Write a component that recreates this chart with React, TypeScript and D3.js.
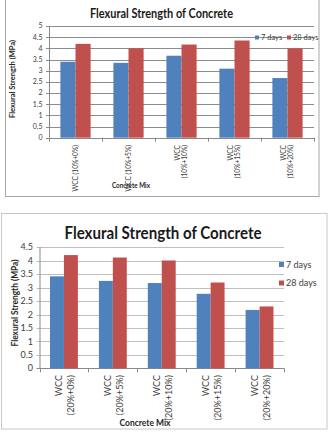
import React from "react";
import * as d3 from "d3";

// mix labels, split into the lines they are drawn on
const mixLabels10 = [
  ["WCC (10%+0%)"],
  ["WCC (10%+5%)"],
  ["WCC", "(10%+10%)"],
  ["WCC", "(10%+15%)"],
  ["WCC", "(10%+20%)"],
];
const mixLabels20 = [
  ["WCC", "(20%+0%)"],
  ["WCC", "(20%+5%)"],
  ["WCC", "(20%+10%)"],
  ["WCC", "(20%+15%)"],
  ["WCC", "(20%+20%)"],
];

// flexural strength, MPa
const days7Mix10 = [3.4, 3.35, 3.67, 3.09, 2.67];
const days28Mix10 = [4.2, 4.0, 4.17, 4.35, 4.0];
const days7Mix20 = [3.42, 3.25, 3.17, 2.77, 2.17];
const days28Mix20 = [4.21, 4.12, 4.01, 3.19, 2.3];

const seriesNames = ["7 days", "28 days"];
const seriesColors = ["#4F81BD", "#C0504D"];

const ticks10 = [0, 0.5, 1, 1.5, 2, 2.5, 3, 3.5, 4, 4.5, 5];
const ticks20 = [0, 0.5, 1, 1.5, 2, 2.5, 3, 3.5, 4, 4.5];

const FONT = "Lato, 'Open Sans', sans-serif";

type PanelProps = {
  labels: string[][];
  a: number[];
  b: number[];
  ticks: number[];
  frame: [number, number, number, number];
  plot: { x0: number; x1: number; y0: number; y1: number };
  title: { x: number; y: number; size: number; width: number };
  tickFont: number;
  tickX: number;
  labelFont: number;
  labelTop: number;
  lineOffsets: number[][];
  yTitle: { x: number; y: number; size: number; width: number };
  xTitle: { x: number; y: number; size: number; width: number };
  legend: "row" | "column";
  legendPos: { x: number; y: number };
  legendFont: number;
  gridColor: string;
  frameColor: string;
};

function Panel(p: PanelProps) {
  const cats = p.labels.map((_, i) => String(i));
  const x = d3
    .scaleBand()
    .domain(cats)
    .range([p.plot.x0, p.plot.x1])
    .paddingInner(0.43)
    .paddingOuter(0.215);
  const sub = d3.scaleBand().domain(["a", "b"]).range([0, x.bandwidth()]);
  const y = d3
    .scaleLinear()
    .domain([0, d3.max(p.ticks) as number])
    .range([p.plot.y1, p.plot.y0]);
  const step = x.step();

  return (
    <g>
      <rect
        x={p.frame[0]}
        y={p.frame[1]}
        width={p.frame[2]}
        height={p.frame[3]}
        fill="#fff"
        stroke={p.frameColor}
        strokeWidth={1}
      />
      <text
        x={p.title.x}
        y={p.title.y}
        textAnchor="middle"
        fontFamily={FONT}
        fontWeight="bold"
        fontSize={p.title.size}
        textLength={p.title.width}
        lengthAdjust="spacingAndGlyphs"
        fill="#1a1a1a"
      >
        Flexural Strength of Concrete
      </text>

      {/* gridlines and y ticks */}
      {p.ticks.map((t) => (
        <g key={t}>
          <line
            x1={p.plot.x0 - 3}
            x2={p.plot.x1}
            y1={Math.round(y(t)) + 0.5}
            y2={Math.round(y(t)) + 0.5}
            stroke={t === 0 ? "#888" : p.gridColor}
          />
          <text
            x={p.tickX}
            y={y(t)}
            dy="0.35em"
            textAnchor="end"
            fontFamily={FONT}
            fontSize={p.tickFont}
            fill="#404040"
          >
            {t}
          </text>
        </g>
      ))}
      <line
        x1={p.plot.x0 + 0.5}
        x2={p.plot.x0 + 0.5}
        y1={y(d3.max(p.ticks) as number)}
        y2={y(0)}
        stroke="#888"
      />
      {d3.range(cats.length + 1).map((i) => (
        <line
          key={i}
          x1={Math.round(p.plot.x0 + i * step) + 0.5}
          x2={Math.round(p.plot.x0 + i * step) + 0.5}
          y1={y(0)}
          y2={y(0) + 4}
          stroke="#888"
        />
      ))}

      {/* bars */}
      {cats.map((c, i) => (
        <g key={c} transform={`translate(${x(c)},0)`}>
          <rect
            x={sub("a")}
            y={y(p.a[i])}
            width={sub.bandwidth()}
            height={y(0) - y(p.a[i])}
            fill={seriesColors[0]}
          />
          <rect
            x={sub("b")}
            y={y(p.b[i])}
            width={sub.bandwidth()}
            height={y(0) - y(p.b[i])}
            fill={seriesColors[1]}
          />
        </g>
      ))}

      {/* category labels */}
      {p.labels.map((lines, i) => {
        const cx = (x(cats[i]) as number) + x.bandwidth() / 2;
        const offs = p.lineOffsets[lines.length - 1];
        return lines.map((ln, j) => (
          <text
            key={`${i}-${j}`}
            transform={`translate(${cx + offs[j]},${p.labelTop}) rotate(-90)`}
            textAnchor="end"
            fontFamily={FONT}
            fontSize={p.labelFont}
            fill="#404040"
          >
            {ln}
          </text>
        ));
      })}

      <text
        x={p.xTitle.x}
        y={p.xTitle.y}
        textAnchor="middle"
        fontFamily={FONT}
        fontWeight="bold"
        fontSize={p.xTitle.size}
        textLength={p.xTitle.width}
        lengthAdjust="spacingAndGlyphs"
        fill="#262626"
      >
        Concrete Mix
      </text>
      <text
        transform={`translate(${p.yTitle.x},${p.yTitle.y}) rotate(-90)`}
        textAnchor="middle"
        fontFamily={FONT}
        fontWeight="bold"
        fontSize={p.yTitle.size}
        textLength={p.yTitle.width}
        lengthAdjust="spacingAndGlyphs"
        fill="#262626"
      >
        Flexural Strength (MPa)
      </text>

      {/* legend */}
      {seriesNames.map((name, i) => {
        const lx =
          p.legend === "row" ? p.legendPos.x + i * 32 : p.legendPos.x;
        const ly =
          p.legend === "row" ? p.legendPos.y : p.legendPos.y + i * 18.5;
        const sq = p.legend === "row" ? 4 : 5;
        return (
          <g key={name}>
            <rect
              x={lx}
              y={ly - sq / 2}
              width={sq}
              height={sq}
              fill={seriesColors[i]}
            />
            <text
              x={lx + sq + 2}
              y={ly}
              dy="0.35em"
              fontFamily={FONT}
              fontSize={p.legendFont}
              fill="#404040"
            >
              {name}
            </text>
          </g>
        );
      })}
    </g>
  );
}

export default function App() {
  return (
    <svg
      width={329}
      height={432}
      style={{ position: "absolute", left: 0, top: 0, background: "#fff" }}
    >
      <Panel
        labels={mixLabels10}
        a={days7Mix10}
        b={days28Mix10}
        ticks={ticks10}
        frame={[5.5, -1, 313.5, 197.5]}
        plot={{ x0: 49, x1: 314, y0: 26, y1: 137.7 }}
        title={{ x: 161.5, y: 17.5, size: 12.5, width: 143 }}
        tickFont={7}
        tickX={42.5}
        labelFont={6.6}
        labelTop={145}
        lineOffsets={[[2.8], [-1.2, 5.6]]}
        yTitle={{ x: 14.5, y: 79, size: 7.5, width: 78 }}
        xTitle={{ x: 131, y: 188, size: 7, width: 38 }}
        legend="row"
        legendPos={{ x: 255, y: 37.5 }}
        legendFont={7.5}
        gridColor="#8c8c8c"
        frameColor="#a6a6a6"
      />
      <Panel
        labels={mixLabels20}
        a={days7Mix20}
        b={days28Mix20}
        ticks={ticks20}
        frame={[1.5, 213.5, 325.5, 215.5]}
        plot={{ x0: 39.5, x1: 284, y0: 247.3, y1: 368.3 }}
        title={{ x: 163, y: 238.5, size: 16.5, width: 197 }}
        tickFont={9}
        tickX={33}
        labelFont={9}
        labelTop={375}
        lineOffsets={[[3], [-1.5, 10]]}
        yTitle={{ x: 17.5, y: 303, size: 8.5, width: 87 }}
        xTitle={{ x: 145, y: 426, size: 8.5, width: 51 }}
        legend="column"
        legendPos={{ x: 279, y: 264.5 }}
        legendFont={9}
        gridColor="#bfbfbf"
        frameColor="#c8c8c8"
      />
    </svg>
  );
}
